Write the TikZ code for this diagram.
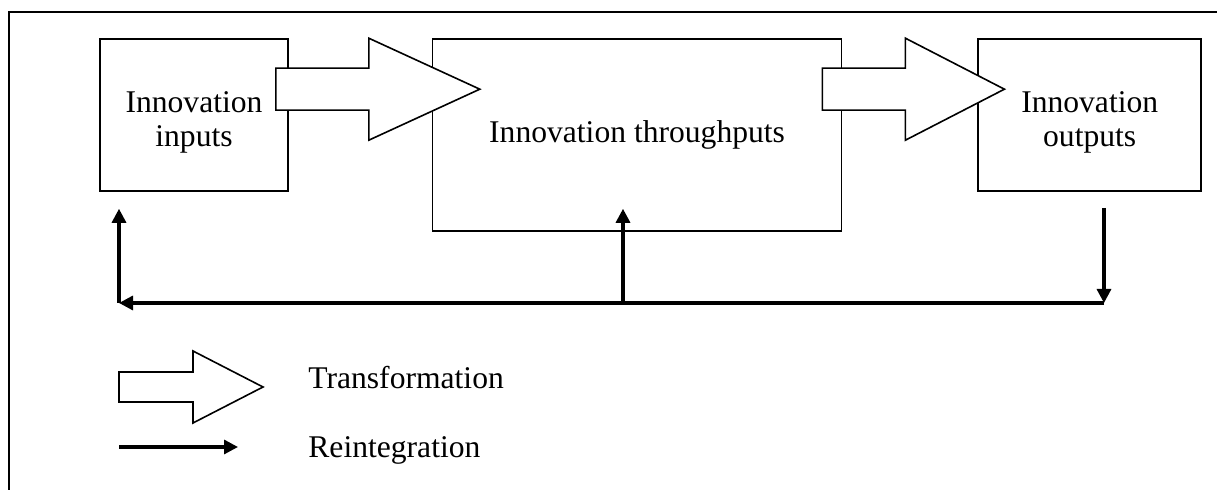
\documentclass[tikz,border=0pt]{standalone}
\usepackage{fontspec}
\setmainfont{Liberation Serif}
\usetikzlibrary{positioning,calc,arrows.meta}

\tikzset{
  box/.style={draw, rectangle, line width=0.8pt, fill=white, align=center, inner sep=0pt,
    font=\fontsize{15.8}{17}\selectfont},
  fat/.style={draw, line width=0.8pt, fill=white, line join=miter},
  feed/.style={line width=1.6pt, -{Triangle[length=7pt,width=7pt]}},
  legend/.style={anchor=base west, inner sep=0pt, font=\fontsize{15.8}{17}\selectfont}
}

% wide arrow from #1 into #2: tail back from #1, shaft length, tip inside #2
\newcommand{\fatarrow}[5]{%
  \draw[fat] ($(#1.north east)+(-#3,30)$) -- ++(#4,0) -- ++(0,-30)
    -- ($(#2.north west)+(#5,51)$) -- ($(#1.north east)+(#4-#3,102)$)
    -- ++(0,-30) -- ($(#1.north east)+(-#3,72)$) -- cycle;}

\begin{document}
\begin{tikzpicture}[x=0.5pt, y=-0.5pt]
  \useasboundingbox (0,0) rectangle (1217,490);
  \draw[line width=0.8pt] (9,490) -- (9,12) -- (1217,12);

  \node[box, minimum width=94pt, minimum height=76pt, text height=34.4pt] (inputs) at (194,115) {Innovation\\inputs};
  \node[box, minimum width=204.5pt, minimum height=96pt, right=71.5pt of inputs.north east, anchor=north west] (thru) {Innovation throughputs};
  \node[box, minimum width=111.5pt, minimum height=76pt, text height=34.4pt, right=67.5pt of thru.north east, anchor=north west] (outputs) {Innovation\\outputs};

  \fatarrow{inputs}{thru}{13}{93}{48}
  \fatarrow{thru}{outputs}{20}{83}{27}

  % reintegration loop
  \coordinate (fbl) at (119,303);
  \coordinate (fbm) at (623,303);
  \coordinate (fbr) at (1104,303);
  \draw[feed] (fbr) -- (fbl);
  \draw[feed, shorten >=8.5pt] (fbl) -- (fbl |- inputs.south);
  \draw[feed] (fbm) -- ($(fbm |- thru.south)+(0,-23)$);
  \draw[feed, shorten <=8pt] (fbr |- outputs.south) -- (fbr);

  % legend
  \draw[fat] (119,372) -- (193,372) -- (193,351) -- (263,387) -- (193,423) -- (193,402) -- (119,402) -- cycle;
  \node[legend] (trans) at (308,389) {Transformation};
  \coordinate (reinta) at (119,447);
  \coordinate (reintb) at (238,447);
  \draw[feed] (reinta) -- (reintb);
  \node[legend] (reint) at (308,458) {Reintegration};
\end{tikzpicture}
\end{document}
